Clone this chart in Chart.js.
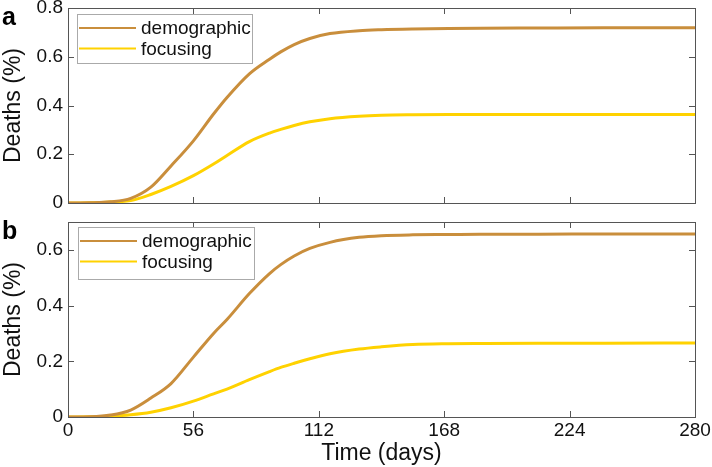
<!DOCTYPE html>
<html>
<head>
<meta charset="utf-8">
<script src="https://cdn.jsdelivr.net/npm/chart.js@4.4.1/dist/chart.umd.min.js"></script>
<style>
  body { margin: 0; background: #fff; }
  #wrap { position: relative; width: 712px; height: 467px; font-family: 'Liberation Sans', Arial, sans-serif; }
  canvas { position: absolute; left: 0; }
  .panel { position: absolute; left: 2px; font-weight: bold; font-size: 25px; color: #000; line-height: 1; }
</style>
</head>
<body>
<div id="wrap">
  <canvas id="chartA" width="712" height="215" style="top:0"></canvas>
  <canvas id="chartB" width="712" height="252" style="top:215px"></canvas>
  <div class="panel" style="top:4px">a</div>
  <div class="panel" style="top:218px">b</div>
</div>
<script>
// jours (axe x)
const days = [0, 10, 19, 28, 37, 46, 56, 65, 71, 81, 90, 95, 101, 108, 117, 130, 140, 154, 170, 184, 210, 240, 280];
const xTicks = [0, 56, 112, 168, 224, 280];

// panneau a
const demoA  = [0, 0.001, 0.005, 0.019, 0.065, 0.152, 0.255, 0.365, 0.433, 0.53, 0.59, 0.62, 0.65, 0.675, 0.695, 0.707, 0.711, 0.714, 0.716, 0.717, 0.718, 0.719, 0.719];
const focusA = [0, 0.001, 0.004, 0.01, 0.035, 0.068, 0.112, 0.16, 0.195, 0.252, 0.287, 0.302, 0.318, 0.333, 0.346, 0.356, 0.36, 0.362, 0.363, 0.363, 0.363, 0.363, 0.363];

// panneau b
const demoB  = [0, 0.001, 0.007, 0.025, 0.068, 0.12, 0.215, 0.3, 0.35, 0.443, 0.515, 0.547, 0.578, 0.605, 0.627, 0.645, 0.651, 0.654, 0.655, 0.656, 0.656, 0.657, 0.657];
const focusB = [0, 0.001, 0.003, 0.008, 0.017, 0.033, 0.057, 0.083, 0.1, 0.134, 0.163, 0.178, 0.193, 0.209, 0.227, 0.244, 0.252, 0.26, 0.263, 0.264, 0.265, 0.265, 0.266];

const labels = ['demographic', 'focusing'];
const colors = ['#C98E3C', '#FFD200'];
const FONT = "'Liberation Sans', Arial, sans-serif";

// cadre + graduations vers l'intérieur (style MATLAB)
const framePlugin = {
  id: 'frame',
  afterDatasetsDraw(chart) {
    const { ctx, chartArea: a, scales: { x, y } } = chart;
    ctx.save();
    ctx.strokeStyle = '#555';
    ctx.lineWidth = 1;
    ctx.strokeRect(a.left + 0.5, a.top + 0.5, a.right - a.left, a.bottom - a.top);
    ctx.beginPath();
    xTicks.forEach(v => {
      const px = Math.round(x.getPixelForValue(v)) + 0.5;
      ctx.moveTo(px, a.bottom); ctx.lineTo(px, a.bottom - 6);
      ctx.moveTo(px, a.top); ctx.lineTo(px, a.top + 6);
    });
    y.ticks.forEach(t => {
      const py = Math.round(y.getPixelForValue(t.value)) + 0.5;
      ctx.moveTo(a.left, py); ctx.lineTo(a.left + 6, py);
      ctx.moveTo(a.right, py); ctx.lineTo(a.right - 6, py);
    });
    ctx.stroke();
    ctx.restore();
  }
};

// légende encadrée dans la zone du graphique
const boxLegend = {
  id: 'boxLegend',
  afterDraw(chart, args, opts) {
    const { ctx, chartArea: a } = chart;
    const bx = a.left + opts.dx, by = a.top + opts.dy;
    ctx.save();
    ctx.fillStyle = '#fff';
    ctx.fillRect(bx, by, opts.w, opts.h);
    ctx.strokeStyle = '#aaa';
    ctx.lineWidth = 1;
    ctx.strokeRect(bx + 0.5, by + 0.5, opts.w, opts.h);
    ctx.font = '19px ' + FONT;
    ctx.textBaseline = 'middle';
    chart.data.datasets.forEach((ds, i) => {
      const ry = by + 14 + i * 20.5;
      ctx.strokeStyle = ds.borderColor;
      ctx.lineWidth = 2;
      ctx.beginPath();
      ctx.moveTo(bx + 2, ry); ctx.lineTo(bx + 59, ry);
      ctx.stroke();
      ctx.fillStyle = '#111';
      ctx.fillText(ds.label, bx + 64, ry + 1);
    });
    ctx.restore();
  }
};

function noPad(scale) {
  scale.paddingTop = 0; scale.paddingBottom = 0;
  scale.paddingLeft = 0; scale.paddingRight = 0;
}

function makeChart(id, demo, focus, yMax, opts) {
  const ctx = document.getElementById(id).getContext('2d');
  return new Chart(ctx, {
    type: 'line',
    data: {
      datasets: [
        { label: labels[0], data: days.map((d, i) => ({ x: d, y: demo[i] })), borderColor: colors[0], borderWidth: 3, pointRadius: 0, cubicInterpolationMode: 'monotone' },
        { label: labels[1], data: days.map((d, i) => ({ x: d, y: focus[i] })), borderColor: colors[1], borderWidth: 3, pointRadius: 0, cubicInterpolationMode: 'monotone' }
      ]
    },
    options: {
      responsive: false,
      animation: false,
      devicePixelRatio: 1,
      layout: { padding: { top: opts.padTop, right: 17, bottom: 0, left: 0 } },
      plugins: {
        legend: { display: false },
        tooltip: { enabled: false },
        boxLegend: opts.legend
      },
      scales: {
        x: {
          type: 'linear', min: 0, max: 280,
          grid: { display: false, drawTicks: false },
          border: { display: false },
          ticks: { display: opts.showX, stepSize: 56, padding: 2, color: '#111', font: { size: 19, family: FONT } },
          title: { display: opts.showX, text: 'Time (days)', color: '#111', padding: { top: 0, bottom: 0 }, font: { size: 23, family: FONT } },
          afterFit(scale) { scale.height = opts.xHeight; noPad(scale); }
        },
        y: {
          min: 0, max: yMax,
          grid: { display: false, drawTicks: false },
          border: { display: false },
          ticks: { stepSize: 0.2, includeBounds: false, padding: 5, color: '#111', font: { size: 19, family: FONT }, callback: v => +v.toFixed(1) },
          title: { display: true, text: 'Deaths (%)', color: '#111', padding: { top: 0, bottom: 0 }, font: { size: 23, family: FONT } },
          afterFit(scale) { scale.width = 68; noPad(scale); }
        }
      }
    },
    plugins: [framePlugin, boxLegend]
  });
}

makeChart('chartA', demoA, focusA, 0.8, { padTop: 8, xHeight: 12, showX: false, legend: { dx: 9, dy: 6, w: 175, h: 49 } });
makeChart('chartB', demoB, focusB, 0.7, { padTop: 7, xHeight: 50, showX: true, legend: { dx: 10, dy: 5, w: 176, h: 52 } });
</script>
</body>
</html>
